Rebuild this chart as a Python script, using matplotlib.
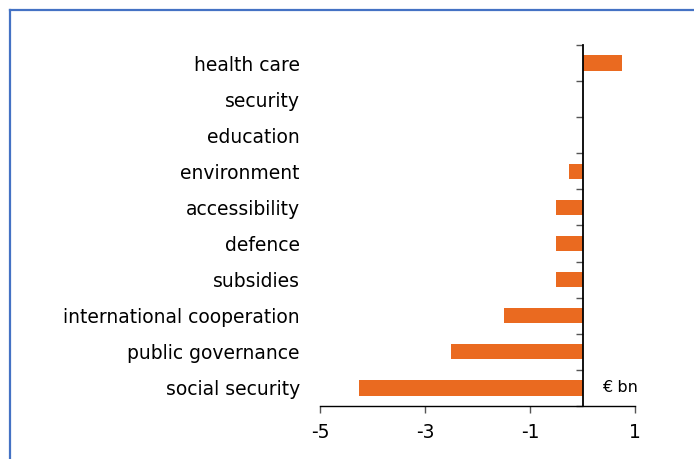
import numpy as np
import matplotlib
matplotlib.use("Agg")
import matplotlib.pyplot as plt
from matplotlib.lines import Line2D

categories = ["social security", "public governance", "international cooperation",
              "subsidies", "defence", "accessibility", "environment",
              "education", "security", "health care"]
values = [-4.25, -2.5, -1.5, -0.5, -0.5, -0.5, -0.25, 0.0, 0.0, 0.75]
xticks = [-5, -3, -1, 1]
bar_color = "#EA6A20"

fig = plt.figure(figsize=(6.94, 4.59), dpi=100)
ax = fig.add_axes([320 / 694, 1 - 406 / 459, 315 / 694, 361 / 459])

y = np.arange(len(categories))
ax.barh(y, values, height=0.42, color=bar_color, zorder=2)

ax.set_xlim(-5, 1)
ax.set_ylim(-0.5, len(categories) - 0.5)
ax.set_xticks(xticks)
ax.set_xticklabels([str(t) for t in xticks])
ax.tick_params(axis="x", direction="out", length=5, width=1, pad=7,
               labelsize=13.5, color="#555555")

ax.set_yticks(y)
ax.set_yticklabels(categories)
ax.set_yticks(np.arange(len(categories) + 1) - 0.5, minor=True)
ax.tick_params(axis="y", which="major", left=True, right=False, length=0,
               pad=14.5, labelsize=13.5)
ax.tick_params(axis="y", which="minor", left=False, right=True,
               direction="in", length=5, width=1, color="#555555")

for s in ["top", "left"]:
    ax.spines[s].set_visible(False)
ax.spines["right"].set_position(("data", 0))
ax.spines["right"].set_linewidth(1.3)
ax.spines["bottom"].set_linewidth(1)

ax.text(0.72, 0, "€ bn", fontsize=11.5, ha="center", va="center",
        transform=ax.transData)

# blue frame of the panel
blue = "#4472C4"
fig.add_artist(Line2D([9.5 / 694, 1], [1 - 10 / 459, 1 - 10 / 459],
                      color=blue, lw=1.6, transform=fig.transFigure))
fig.add_artist(Line2D([9.5 / 694, 9.5 / 694], [0, 1 - 10 / 459],
                      color=blue, lw=1.6, transform=fig.transFigure))

fig.savefig("out.png", dpi=100)
